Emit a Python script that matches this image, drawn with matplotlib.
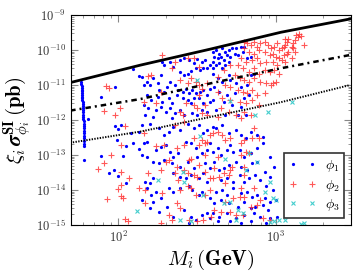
import numpy as np
import matplotlib
matplotlib.use('Agg')
import matplotlib.pyplot as plt

# scan points: (log10 M_i [GeV], log10 xi*sigma [pb])
phi1_points = [
    # narrow strip near 60 GeV
    (1.765, -10.92), (1.766, -10.97), (1.767, -11.02), (1.767, -11.08), (1.768, -11.13),
    (1.769, -11.18), (1.769, -11.22), (1.770, -11.27), (1.771, -11.33), (1.771, -11.38),
    (1.772, -11.43), (1.773, -11.48), (1.773, -11.55), (1.774, -11.60), (1.775, -11.66),
    (1.776, -11.72), (1.776, -11.78), (1.777, -11.85), (1.778, -11.90), (1.778, -11.97),
    (1.779, -12.03), (1.780, -12.10), (1.780, -12.17), (1.781, -12.24), (1.782, -12.30),
    (1.782, -12.38), (1.783, -12.45), (1.784, -12.52), (1.784, -12.60), (1.785, -12.68),
    (1.785, -12.75), (1.78, -13.14),
    # below 140 GeV
    (2.09, -10.54), (2.13, -10.74), (1.98, -11.06), (1.89, -11.34), (1.81, -11.98),
    (1.98, -12.16), (2.02, -12.14), (2.00, -12.27), (2.08, -12.38), (2.13, -12.33),
    (1.99, -12.57), (2.05, -12.74), (2.09, -12.65), (2.13, -12.82), (1.89, -13.03),
    (2.03, -13.03), (1.97, -13.43), (1.94, -13.52), (2.00, -13.60), (2.05, -13.81),
    # 140 - 390 GeV, upper half
    (2.39, -10.27), (2.42, -10.22), (2.45, -10.29), (2.48, -10.38), (2.50, -10.26),
    (2.53, -10.33), (2.55, -10.29), (2.58, -10.43), (2.56, -10.52), (2.54, -10.52),
    (2.52, -10.57), (2.49, -10.52), (2.46, -10.60), (2.44, -10.67), (2.42, -10.71),
    (2.39, -10.62), (2.35, -10.48), (2.33, -10.33), (2.29, -10.43), (2.27, -10.71),
    (2.22, -10.81), (2.18, -10.90), (2.16, -11.00), (2.15, -10.76), (2.20, -11.00),
    (2.25, -10.95), (2.26, -11.14), (2.29, -11.19), (2.31, -11.05), (2.33, -10.90),
    (2.36, -11.00), (2.38, -11.14), (2.41, -11.19), (2.43, -11.10), (2.45, -11.24),
    (2.47, -11.14), (2.49, -11.24), (2.52, -11.19), (2.54, -11.14), (2.56, -11.29),
    (2.58, -11.10), (2.18, -11.29), (2.21, -11.43), (2.25, -11.33), (2.28, -11.48),
    (2.32, -11.38), (2.34, -11.52), (2.37, -11.29), (2.41, -11.38), (2.44, -11.43),
    (2.46, -11.50), (2.48, -11.38), (2.51, -11.38), (2.54, -11.52), (2.58, -11.48),
    (2.16, -11.57), (2.19, -11.67), (2.24, -11.71), (2.27, -11.62), (2.30, -11.76),
    (2.33, -11.67), (2.36, -11.81), (2.39, -11.71), (2.42, -11.86), (2.47, -11.81),
    (2.50, -11.86), (2.53, -11.71), (2.56, -11.76), (2.17, -11.86), (2.22, -11.90),
    (2.34, -11.95), (2.28, -10.33),
    # 390 - 1100 GeV, upper half
    (2.60, -10.05), (2.62, -10.00), (2.64, -10.10), (2.66, -9.95), (2.68, -10.05),
    (2.70, -10.00), (2.72, -9.95), (2.75, -9.93), (2.78, -9.90), (2.80, -9.90),
    (2.61, -10.19), (2.63, -10.24), (2.65, -10.19), (2.67, -10.29), (2.69, -10.14),
    (2.71, -10.19), (2.74, -10.10), (2.76, -10.14), (2.79, -10.05), (2.60, -10.33),
    (2.62, -10.43), (2.64, -10.38), (2.68, -10.43), (2.70, -10.33), (2.60, -10.52),
    (2.66, -10.52), (2.82, -10.24), (2.84, -10.19), (2.60, -10.67), (2.63, -10.81),
    (2.66, -10.90), (2.71, -10.86), (2.75, -10.95), (2.78, -11.05), (2.82, -11.00),
    (2.61, -11.05), (2.64, -11.19), (2.69, -11.29), (2.74, -11.24), (2.60, -11.43),
    (2.67, -11.48), (2.72, -11.57), (2.78, -11.62), (2.62, -11.71), (2.68, -11.86),
    (2.76, -11.86), (2.81, -11.86), (2.84, -10.71), (2.83, -11.29), (2.80, -11.38),
    (2.70, -10.71), (2.86, -10.67),
    # 140 - 390 GeV, lower half
    (2.15, -12.14), (2.20, -12.10), (2.26, -12.24), (2.29, -12.43), (2.32, -12.33),
    (2.35, -12.19), (2.39, -12.29), (2.44, -12.10), (2.48, -12.24), (2.51, -12.14),
    (2.54, -12.38), (2.56, -12.29), (2.16, -12.67), (2.18, -12.62), (2.24, -12.86),
    (2.27, -12.76), (2.30, -12.71), (2.33, -12.90), (2.38, -12.95), (2.43, -12.62),
    (2.46, -12.67), (2.49, -12.81), (2.53, -12.95), (2.56, -12.86), (2.58, -12.67),
    (2.15, -13.00), (2.18, -13.05), (2.22, -13.19), (2.26, -13.24), (2.29, -13.14),
    (2.34, -13.24), (2.35, -13.05), (2.39, -13.33), (2.44, -13.19), (2.48, -13.38),
    (2.50, -13.05), (2.55, -13.24), (2.58, -13.38), (2.17, -13.76), (2.20, -13.81),
    (2.22, -13.67), (2.35, -13.52), (2.39, -13.62), (2.43, -13.67), (2.46, -13.57),
    (2.51, -13.67), (2.54, -13.52), (2.56, -13.76), (2.15, -14.29), (2.18, -13.95),
    (2.21, -14.14), (2.24, -14.05), (2.27, -14.24), (2.32, -13.95), (2.35, -14.05),
    (2.39, -13.95), (2.45, -13.90), (2.47, -14.00), (2.51, -14.14), (2.53, -14.05),
    (2.58, -14.24), (2.22, -14.33), (2.20, -14.52), (2.26, -14.62), (2.31, -14.48),
    (2.35, -14.76), (2.42, -14.57), (2.46, -14.76), (2.49, -14.86), (2.53, -14.71),
    (2.56, -14.67), (2.58, -14.81), (2.45, -14.95),
    # 390 - 1100 GeV, lower half
    (2.60, -12.19), (2.62, -12.24), (2.66, -12.14), (2.70, -12.38), (2.75, -12.29),
    (2.78, -12.43), (2.81, -12.52), (2.84, -12.33), (2.88, -12.43), (2.92, -12.48),
    (2.60, -12.90), (2.63, -12.81), (2.65, -13.00), (2.69, -12.86), (2.71, -12.71),
    (2.73, -12.90), (2.77, -12.86), (2.80, -13.05), (2.84, -12.95), (2.88, -12.81),
    (2.92, -12.67), (2.96, -13.05), (2.99, -13.33), (2.61, -13.19), (2.64, -13.43),
    (2.67, -13.38), (2.70, -13.29), (2.75, -13.19), (2.78, -13.33), (2.82, -13.43),
    (2.85, -13.24), (2.88, -13.19), (2.93, -13.48), (2.96, -13.62), (2.65, -13.71),
    (2.69, -13.67), (2.73, -13.76), (2.77, -13.57), (2.80, -13.76), (2.83, -13.67),
    (2.87, -13.57), (2.90, -13.71), (2.94, -13.90), (2.98, -14.00), (2.62, -14.05),
    (2.66, -14.00), (2.69, -14.14), (2.73, -13.95), (2.78, -14.10), (2.82, -14.05),
    (2.85, -14.19), (2.88, -14.14), (2.93, -14.24), (2.96, -14.33), (3.00, -14.29),
    (2.61, -14.38), (2.65, -14.29), (2.70, -14.38), (2.76, -14.48), (2.80, -14.33),
    (2.84, -14.52), (2.87, -14.48), (2.92, -14.43), (2.95, -14.57), (2.60, -14.67),
    (2.64, -14.76), (2.69, -14.67), (2.75, -14.81), (2.80, -14.71), (2.86, -14.67),
    (2.90, -14.76), (2.96, -14.81), (3.01, -14.76), (2.63, -14.90), (2.71, -14.90),
    (2.78, -14.95), (2.84, -14.90), (2.94, -14.95),
]

phi2_points = [
    # below 140 GeV
    (1.92, -11.04), (1.94, -11.08), (2.01, -11.66), (1.91, -11.74), (1.98, -11.86),
    (2.04, -12.17), (2.02, -12.71), (1.955, -13.01), (1.91, -13.22), (1.87, -13.41),
    (2.02, -13.48), (2.07, -13.67), (2.02, -13.86), (2.00, -13.98), (2.13, -13.93),
    (2.02, -14.17), (2.03, -14.24), (1.93, -14.27), (2.04, -14.84), (2.06, -14.88),
    # 140 - 390 GeV, upper half
    (2.44, -10.24), (2.48, -10.22), (2.36, -10.33), (2.34, -10.52), (2.51, -10.48),
    (2.39, -10.86), (2.46, -10.81), (2.49, -10.90), (2.51, -11.00), (2.53, -11.10),
    (2.21, -10.70), (2.19, -10.73), (2.27, -11.19), (2.44, -10.95), (2.56, -10.95),
    (2.43, -11.52), (2.48, -11.57), (2.50, -11.67), (2.53, -11.81), (2.56, -11.86),
    (2.39, -11.76), (2.41, -11.86), (2.24, -11.52), (2.16, -11.48), (2.51, -11.29),
    (2.55, -11.57), (2.28, -10.14),
    # 390 - 1100 GeV, upper half
    (2.80, -9.76), (2.82, -9.81), (2.84, -9.86), (2.86, -9.76), (2.88, -9.90),
    (2.90, -9.81), (2.93, -9.76), (2.95, -9.86), (2.97, -9.95), (2.99, -9.90),
    (3.01, -9.81), (3.02, -10.00), (2.80, -9.95), (2.83, -10.05), (2.86, -10.10),
    (2.89, -10.00), (2.93, -10.05), (2.96, -10.14), (2.98, -10.10), (3.00, -10.19),
    (3.02, -10.24), (2.78, -10.24), (2.81, -10.33), (2.85, -10.29), (2.88, -10.24),
    (2.90, -10.38), (2.94, -10.33), (2.98, -10.33), (3.01, -10.43), (2.76, -10.43),
    (2.79, -10.52), (2.83, -10.62), (2.86, -10.52), (2.89, -10.67), (2.93, -10.57),
    (2.96, -10.62), (2.99, -10.57), (3.02, -10.67), (2.71, -10.43), (2.67, -10.57),
    (2.74, -10.71), (2.77, -10.81), (2.80, -10.86), (2.83, -10.90), (2.86, -10.81),
    (2.90, -10.90), (2.94, -10.95), (2.97, -11.00), (3.00, -10.90), (2.63, -10.76),
    (2.68, -11.00), (2.71, -11.05), (2.76, -11.14), (2.79, -11.19), (2.82, -11.24),
    (2.85, -11.14), (2.88, -11.29), (2.93, -11.24), (2.63, -11.19), (2.66, -11.38),
    (2.71, -11.43), (2.77, -11.48), (2.81, -11.52), (2.85, -11.43), (2.89, -11.57),
    (2.65, -11.67), (2.70, -11.76), (2.75, -11.86), (2.80, -11.76), (2.63, -11.90),
    (2.78, -11.95), (2.84, -11.86), (2.98, -10.95),
    # above 1100 GeV
    (3.04, -9.95), (3.06, -9.86), (3.07, -9.76), (3.08, -10.05), (3.10, -9.90),
    (3.11, -9.95), (3.12, -9.71), (3.13, -9.57), (3.14, -9.62), (3.15, -9.55),
    (3.16, -9.59), (3.18, -9.84), (3.10, -10.24), (3.05, -10.14), (3.07, -10.10),
    (3.06, -10.33), (3.04, -10.29), (3.12, -10.05), (3.11, -9.81), (3.05, -9.90),
    (3.08, -9.67), (3.06, -9.69),
    # 140 - 390 GeV, lower half
    (2.16, -12.38), (2.36, -12.14), (2.42, -12.05), (2.48, -12.52), (2.53, -12.57),
    (2.55, -12.67), (2.58, -12.43), (2.24, -12.74), (2.29, -12.71), (2.37, -12.81),
    (2.42, -12.71), (2.51, -12.71), (2.56, -12.62), (2.30, -13.19), (2.32, -13.14),
    (2.37, -13.33), (2.42, -13.43), (2.46, -13.10), (2.45, -13.14), (2.51, -13.29),
    (2.55, -13.00), (2.19, -13.52), (2.27, -13.43), (2.36, -13.52), (2.38, -13.71),
    (2.44, -13.52), (2.48, -13.57), (2.50, -13.62), (2.55, -13.48), (2.58, -13.67),
    (2.17, -14.00), (2.17, -14.38), (2.28, -14.10), (2.39, -14.00), (2.44, -13.90),
    (2.46, -13.95), (2.49, -14.14), (2.55, -14.14), (2.58, -14.00), (2.27, -14.95),
    (2.32, -14.71), (2.34, -14.86), (2.39, -14.52), (2.45, -14.86), (2.50, -14.90),
    (2.54, -14.86), (2.59, -14.76), (2.37, -14.38),
    # 390 - 1100 GeV, lower half
    (2.60, -12.38), (2.63, -12.33), (2.66, -12.43), (2.68, -12.57), (2.71, -12.52),
    (2.78, -12.67), (2.80, -12.57), (2.86, -12.24), (2.85, -12.52), (2.89, -12.52),
    (2.81, -12.90), (2.83, -12.95), (2.78, -13.00), (2.63, -13.05), (2.61, -13.38),
    (2.60, -13.67), (2.64, -13.62), (2.67, -13.52), (2.70, -13.57), (2.68, -13.81),
    (2.71, -13.43), (2.72, -13.33), (2.80, -13.57), (2.80, -13.33), (2.73, -14.24),
    (2.77, -14.19), (2.80, -14.19), (2.78, -13.95), (2.86, -13.95), (2.90, -14.29),
    (2.68, -14.33), (2.61, -14.57), (2.65, -14.62), (2.71, -14.62), (2.75, -14.71),
    (2.79, -14.71), (2.92, -14.81), (2.96, -14.86), (2.84, -14.48), (2.88, -14.43),
]

phi3_points = [
    (2.12, -14.59), (2.50, -10.86), (2.71, -11.46), (2.87, -11.86), (2.95, -11.78),
    (3.10, -11.48), (2.52, -12.46), (2.25, -13.71), (2.41, -13.48), (2.42, -13.76),
    (2.54, -14.14), (2.39, -14.86), (2.46, -14.90), (2.68, -13.10), (2.83, -12.95),
    (2.88, -13.19), (2.81, -13.43), (2.96, -13.76), (2.93, -14.05), (2.98, -14.24),
    (3.00, -14.29), (2.67, -14.38), (2.71, -14.33), (2.76, -14.57), (2.79, -14.67),
    (2.75, -14.86), (2.99, -14.90), (3.02, -14.86), (2.96, -14.92), (3.18, -14.95),
    (3.16, -14.98), (3.06, -14.86),
]

# limit curves (log10 values)
limit_log_m = [1.694, 2.140, 2.586, 3.032, 3.471]
solid_log_sigma = [-10.93, -10.43, -9.97, -9.49, -9.11]
dashdot_log_sigma = [-11.73, -11.40, -10.95, -10.52, -10.14]
dotted_log_sigma = [-12.65, -12.33, -11.91, -11.49, -11.00]

labels = [r'$\phi_1$', r'$\phi_2$', r'$\phi_3$']


def plot_scan():
    plt.rcParams['font.family'] = 'serif'
    plt.rcParams['font.serif'] = ['cmr10']
    plt.rcParams['mathtext.fontset'] = 'cm'
    plt.rcParams['axes.formatter.use_mathtext'] = True

    fig = plt.figure(figsize=(3.6, 2.75), dpi=100)
    ax = fig.add_axes([0.197, 0.182, 0.778, 0.763])

    p1 = 10 ** np.array(phi1_points).T
    p2 = 10 ** np.array(phi2_points).T
    p3 = 10 ** np.array(phi3_points).T
    ax.plot(p1[0], p1[1], ls='none', marker='o', ms=2.3, mew=0, color='#0000ff', label=labels[0])
    ax.plot(p2[0], p2[1], ls='none', marker='+', ms=4.8, mew=0.8, color='#ff3030', alpha=0.8, label=labels[1])
    ax.plot(p3[0], p3[1], ls='none', marker='x', ms=3.5, mew=0.8, color='#30c8c8', alpha=0.9, label=labels[2])

    m = 10 ** np.array(limit_log_m)
    ax.plot(m, 10 ** np.array(solid_log_sigma), color='k', lw=2.0)
    ax.plot(m, 10 ** np.array(dashdot_log_sigma), color='k', lw=1.8, ls=(0, (2.2, 1.6, 0.8, 1.6)))
    ax.plot(m, 10 ** np.array(dotted_log_sigma), color='k', lw=1.4, ls=(0, (0.7, 0.7)))

    ax.set_xscale('log')
    ax.set_yscale('log')
    ax.set_xlim(50, 3000)
    ax.set_ylim(1e-15, 1e-9)
    ax.set_yticks([10.0 ** k for k in range(-15, -8)])
    ax.tick_params(which='both', direction='in', top=True, right=True, colors='#888888',
                   labelcolor='#333333', labelsize=9)
    ax.tick_params(which='major', length=5)
    ax.tick_params(which='minor', length=2.5)

    ax.set_xlabel(r'$\boldsymbol{M_i}\,\mathbf{(GeV)}$', fontsize=15, color='k', labelpad=2)
    ax.set_ylabel(r'$\boldsymbol{\xi_i\,\sigma}^{\mathbf{SI}}_{\boldsymbol{\phi_i}}\,\mathbf{(pb)}$',
                  fontsize=15, color='k', labelpad=2)

    leg = ax.legend(loc='lower right', numpoints=2, fontsize=10, fancybox=False, framealpha=1,
                    edgecolor='#333333', handlelength=2.0, borderpad=0.35, labelspacing=0.25,
                    handletextpad=0.6, borderaxespad=0.5)
    leg.get_frame().set_linewidth(1.2)

    fig.savefig('out.png', dpi=100)


if __name__ == '__main__':
    plot_scan()
